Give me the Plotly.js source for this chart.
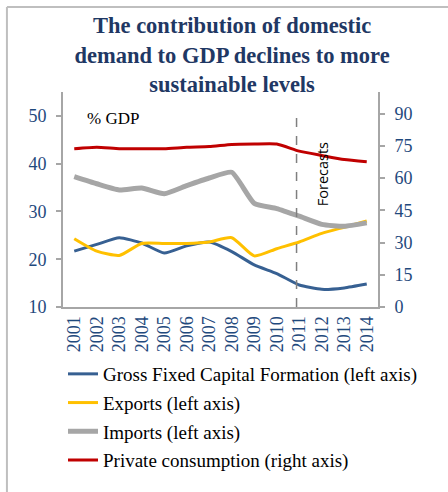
<!DOCTYPE html>
<html>
<head>
<meta charset="utf-8">
<script src="https://cdn.plot.ly/plotly-3.0.1.min.js"></script>
<style>html,body{margin:0;padding:0;background:#fff;}#chart{width:448px;height:492px;}</style>
</head>
<body>
<div id="chart"></div>
<script>
const years = ["2001","2002","2003","2004","2005","2006","2007","2008","2009","2010","2011","2012","2013","2014"];
const gfcf = [21.7, 23.1, 24.5, 23.4, 21.3, 22.8, 23.6, 21.6, 18.8, 17.0, 14.6, 13.7, 14.0, 14.8];
const exportsV = [24.3, 21.7, 20.8, 23.3, 23.3, 23.3, 23.6, 24.5, 20.7, 22.2, 23.6, 25.4, 26.7, 28.0];
const importsV = [37.3, 35.8, 34.5, 34.9, 33.7, 35.4, 37.0, 38.2, 31.7, 30.6, 29.0, 27.3, 26.9, 27.6];
const privCons = [73.6, 74.3, 73.6, 73.6, 73.6, 74.3, 74.6, 75.6, 75.8, 75.8, 72.5, 70.5, 68.6, 67.6];
const seriesNames = ["Gross Fixed Capital Formation (left axis)", "Exports (left axis)", "Imports (left axis)", "Private consumption (right axis)"];
const leftTicks = [10, 20, 30, 40, 50];
const rightTicks = [0, 15, 30, 45, 60, 75, 90];
const forecastStart = 9.88;

const serif = "Liberation Serif, Times New Roman, serif";
const tickColor = "#1F497D";
const axisColor = "#A6A6A6";

const traces = [
  {x: years, y: gfcf, name: seriesNames[0], type: "scatter", mode: "lines", line: {color: "#376092", width: 3, shape: "spline", smoothing: 0.5}, legendgroup: "a", legend: "legend"},
  {x: years, y: exportsV, name: seriesNames[1], type: "scatter", mode: "lines", line: {color: "#FFC000", width: 3, shape: "spline", smoothing: 0.6}, legendgroup: "b", legend: "legend"},
  {x: years, y: importsV, name: seriesNames[2], type: "scatter", mode: "lines", line: {color: "#A6A6A6", width: 5, shape: "spline", smoothing: 0.5}, legendgroup: "c", legend: "legend"},
  {x: years, y: privCons, name: seriesNames[3], type: "scatter", mode: "lines", yaxis: "y2", line: {color: "#C00000", width: 3, shape: "spline", smoothing: 0.5}, legendgroup: "d", legend: "legend2"}
];

const legendFont = {family: serif, size: 19, color: "#000"};

const layout = {
  width: 448, height: 492,
  margin: {l: 63, r: 70, t: 92, b: 185, pad: 0},
  paper_bgcolor: "#fff", plot_bgcolor: "rgba(0,0,0,0)",
  showlegend: true,
  title: {
    text: "The contribution of domestic<br>demand to GDP declines to more<br>sustainable levels",
    font: {family: serif, size: 22.5, color: "#1F3864", weight: "bold"},
    xref: "container", x: 0.518, xanchor: "center", yref: "container", y: 0.932, yanchor: "middle"
  },
  xaxis: {
    type: "category", range: [-0.5, 13.5],
    showline: true, linecolor: axisColor, linewidth: 2,
    showgrid: false, zeroline: false, ticks: "",
    tickangle: -90, tickfont: {family: serif, size: 18, color: tickColor}
  },
  yaxis: {
    range: [10, 55], tickvals: leftTicks,
    showline: true, linecolor: axisColor, linewidth: 2,
    showgrid: false, zeroline: false, ticks: "outside", ticklen: 5, tickcolor: axisColor, tickwidth: 2,
    ticklabelstandoff: 6,
    tickfont: {family: serif, size: 18, color: tickColor}
  },
  yaxis2: {
    range: [0, 100], tickvals: rightTicks, overlaying: "y", side: "right",
    showline: true, linecolor: axisColor, linewidth: 2,
    showgrid: false, zeroline: false, ticks: "outside", ticklen: 5, tickcolor: axisColor, tickwidth: 2,
    ticklabelstandoff: 6,
    tickfont: {family: serif, size: 18, color: tickColor}
  },
  legend: {
    x: 0, xanchor: "left", y: -0.2233, yanchor: "top",
    orientation: "v", traceorder: "grouped", tracegroupgap: 1,
    font: legendFont, bgcolor: "rgba(0,0,0,0)", itemwidth: 30
  },
  legend2: {
    x: 0, xanchor: "left", y: -0.624, yanchor: "top",
    orientation: "v", traceorder: "normal",
    font: legendFont, bgcolor: "rgba(0,0,0,0)", itemwidth: 30
  },
  shapes: [
    {type: "line", xref: "x", yref: "paper", x0: forecastStart, x1: forecastStart, y0: 0, y1: 0.893,
     line: {color: "#7F7F7F", width: 1.5, dash: "dash"}},
    {type: "line", xref: "paper", yref: "paper", x0: -0.178, x1: 1.3, y0: 1.395, y1: 1.395,
     line: {color: "#BFBFBF", width: 2}},
    {type: "line", xref: "paper", yref: "paper", x0: -0.178, x1: -0.178, y0: 1.395, y1: -0.9,
     line: {color: "#BFBFBF", width: 2}}
  ],
  annotations: [
    {text: "% GDP", xref: "paper", yref: "paper", x: 0.159, y: 0.879, xanchor: "center", yanchor: "middle", showarrow: false,
     font: {family: serif, size: 17, color: "#000"}},
    {text: "Forecasts", xref: "x", yref: "paper", x: 11.07, y: 0.619, xanchor: "center", yanchor: "middle", showarrow: false, textangle: -90,
     font: {family: "Open Sans, Liberation Sans, sans-serif", size: 14.5, color: "#000"}}
  ]
};

Plotly.newPlot("chart", traces, layout, {displayModeBar: false, staticPlot: true});
</script>
</body>
</html>
